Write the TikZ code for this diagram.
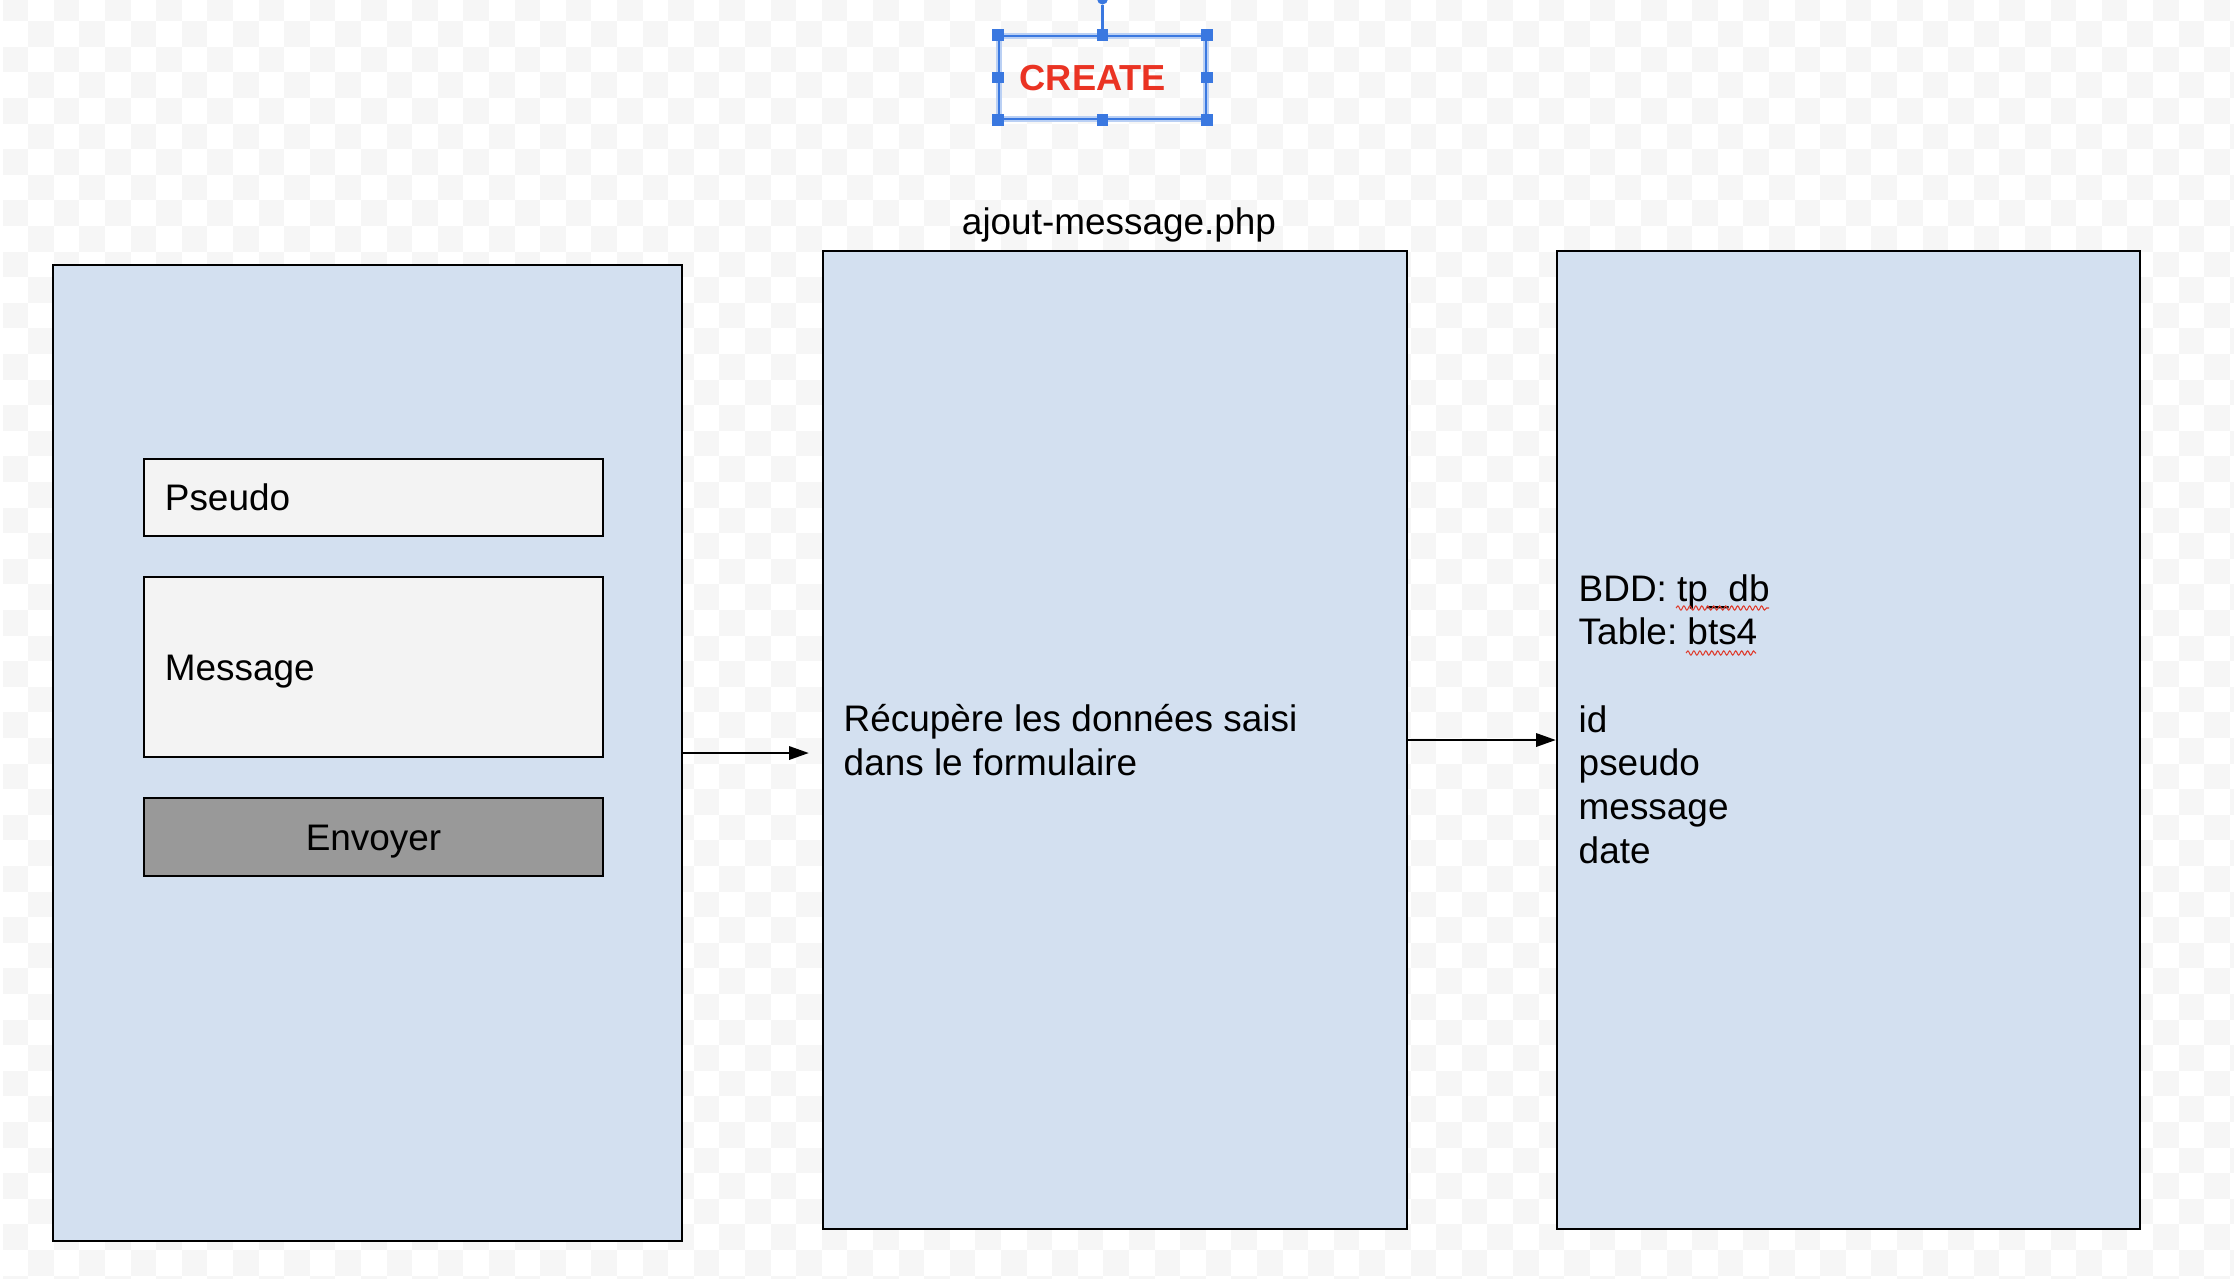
\documentclass[tikz,border=0pt]{standalone}
\usepackage{fontspec}
\setmainfont{Liberation Sans}
\frenchspacing
\usetikzlibrary{arrows.meta,decorations.pathmorphing}
\definecolor{paneblue}{RGB}{211,224,240}
\definecolor{fieldgray}{RGB}{243,243,243}
\definecolor{btngray}{RGB}{153,153,153}
\definecolor{checkgray}{RGB}{246,246,246}
\definecolor{createred}{RGB}{234,51,35}
\definecolor{selblue}{RGB}{58,120,224}
\definecolor{spellred}{RGB}{222,60,45}
\tikzset{
	panel/.style={draw=black, fill=paneblue, line width=0.6pt, inner sep=0pt},
	field/.style={draw=black, fill=fieldgray, line width=0.6pt, minimum height=0.77cm, text width=4.17cm, inner xsep=0.21cm, inner ysep=0pt, align=left, text height=0.75em, text depth=0pt},
	button/.style={draw=black, fill=btngray, line width=0.6pt, minimum width=4.59cm, minimum height=0.78cm, inner sep=0pt, text height=0.75em, text depth=0pt},
	txt/.style={inner sep=0pt, align=left},
	flow/.style={line width=0.6pt, -{Triangle[length=5.6pt,width=3.8pt]}},
	handle/.style={fill=selblue, inner sep=0pt, minimum size=0.115cm},
	spell/.style={draw=spellred, line width=0.3pt, decorate, decoration={snake, amplitude=0.6pt, segment length=1.7pt}}
}

\begin{document}
\begin{tikzpicture}[x=0.01cm, y=-0.01cm, font=\fontsize{10.5}{12.4}\selectfont]
		%%%%% START %%%%%
		
		\useasboundingbox (0,0) rectangle (2234,1278);
		\fill[white] (0,0) rectangle (2234,1278);
		\foreach \j in {-1,...,49}
			\foreach \i in {0,2,...,86}
				\fill[checkgray] ({2.5+25.6*(\i+mod(\j+1,2))},{21.2+25.6*\j}) rectangle ++(25.6,25.6);
		
		% selected CREATE label
		\node[draw=selblue, line width=0.6pt, preaction={draw=selblue!35, line width=1.6pt}, minimum width=2.07cm, minimum height=0.83cm, inner sep=0pt] (sel) at (1102.5,77.5) {};
		\node[font=\fontsize{10.3}{12}\selectfont\bfseries, text=createred, anchor=base west, inner sep=0pt] (create) at (1019,90.7) {CREATE};
		\node[circle, fill=selblue, inner sep=0pt, minimum size=0.11cm] (rot) at (1102.5,-1) {};
		\draw[selblue, line width=0.6pt] (sel.north) -- (rot);
		\foreach \a/\n in {north west/nw, north/n, north east/ne, east/e, south east/se, south/s, south west/sw, west/w}
			\node[handle] (h\n) at (sel.\a) {};
		
		% form
		\node[panel, minimum width=6.29cm, minimum height=9.76cm] (form) at (367.5,753) {};
		\node[field] (pseudo) at (373.5,497.5) {Pseudo};
		\node[field, minimum height=1.8cm] (msg) at (373.5,667) {Message};
		\node[button] (send) at (373.5,837) {Envoyer};
		
		% php page
		\node[txt, anchor=base] (phpname) at (1119,234) {ajout-message.php};
		\node[panel, minimum width=5.84cm, minimum height=9.78cm] (php) at (1115,740) {};
		\node[txt, anchor=base west] (phptxt) at (843,775) {Récupère les données saisi\\dans le formulaire};
		
		% database
		\node[panel, minimum width=5.83cm, minimum height=9.78cm] (db) at (1848.5,740) {};
		\node[txt, anchor=base west] (dbtxt) at (1578,863) {BDD: tp\_db\\Table: bts4\\[12.4pt]id\\pseudo\\message\\date};
		\draw[spell] (1676,608) -- (1769,608);
		\draw[spell] (1686,653) -- (1756,653);
		
		\path (form.east -| php.west) ++(-13,0) coordinate (phpin);
		\draw[flow] (form.east) -- (phpin);
		\draw[flow] (php.east) -- (db.west);
		
		%%%%% END %%%%%
\end{tikzpicture}
\end{document}
